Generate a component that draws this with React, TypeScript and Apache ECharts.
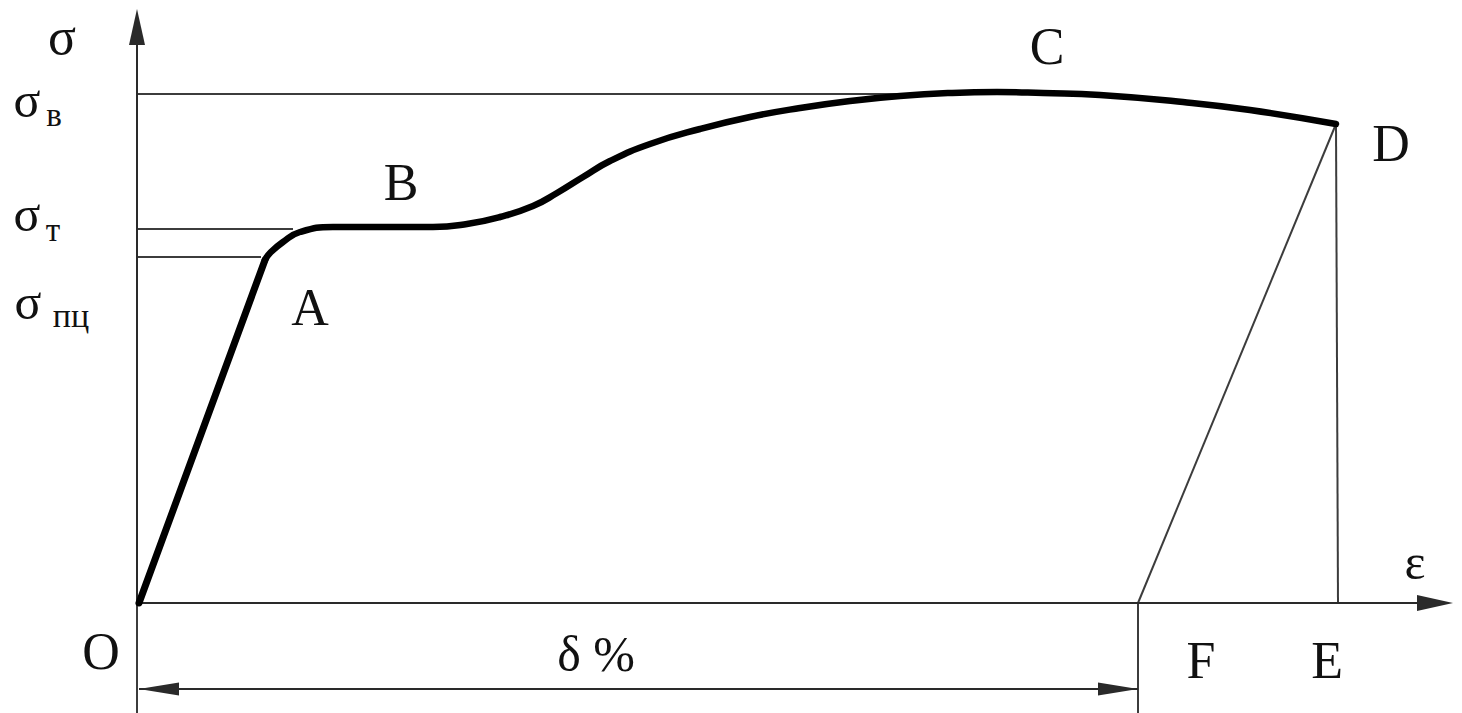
import React, { useEffect, useRef } from "react";
import * as echarts from "echarts";

// Data coordinates: x = strain units, y = stress units (origin O at 0,0)
const elasticSegment: number[][] = [
  [0, 0],
  [126, 343],
];
const plasticCurve: number[][] = [
  [126, 343],
  [131, 350],
  [144, 361],
  [161, 371],
  [194, 376],
  [244, 376],
  [294, 376],
  [328, 379],
  [361, 386],
  [394, 397],
  [418, 410],
  [444, 426],
  [471, 442],
  [511, 459],
  [561, 474],
  [611, 486],
  [661, 495],
  [711, 502],
  [761, 507],
  [811, 510],
  [858, 511],
  [904, 510],
  [961, 508],
  [1044, 501],
  [1111, 493],
  [1197, 479],
];
const sigmaB = 509; // ultimate strength level
const sigmaT = 374; // yield level
const sigmaPC = 346; // proportional limit level
const sigmaBEnd = 770;
const sigmaTEnd = 154;
const sigmaPCEnd = 122;
const pointD: number[] = [1197, 479];
const pointF: number[] = [999, 0];
const pointE: number[] = [1199, 0];
const axisX: number = -2;
const xAxisEnd = 1296;
const yAxisEnd = 576;
const bottomEdge = -110;
const deltaLevel = -86;
const deltaArrowHalf = 20;

const X_MIN = -139;
const X_MAX = 1323;
const Y_MIN = -110;
const Y_MAX = 603;

const FONT = "'Liberation Serif', 'Times New Roman', serif";

function thin(name: string, data: number[][]) {
  return {
    name,
    type: "line",
    data,
    symbol: "none",
    silent: true,
    lineStyle: { color: "#3c3c3c", width: 2 },
    z: 2,
  };
}

export default function App() {
  const ref = useRef<HTMLDivElement>(null);
  useEffect(() => {
    if (!ref.current) return;
    const chart = echarts.init(ref.current, undefined, { renderer: "svg" });
    const txt = (text: string, x: number, y: number, size: number) => ({
      type: "text",
      x,
      y,
      silent: true,
      style: {
        text,
        font: `${size}px ${FONT}`,
        fill: "#111",
        textAlign: "center",
        textVerticalAlign: "middle",
      },
    });
    chart.setOption({
      animation: false,
      backgroundColor: "#ffffff",
      grid: { left: 0, right: 0, top: 0, bottom: 0 },
      xAxis: {
        type: "value",
        min: X_MIN,
        max: X_MAX,
        show: false,
      },
      yAxis: {
        type: "value",
        min: Y_MIN,
        max: Y_MAX,
        show: false,
      },
      series: [
        thin("σв", [
          [axisX, sigmaB],
          [sigmaBEnd, sigmaB],
        ]),
        thin("σт", [
          [axisX, sigmaT],
          [sigmaTEnd, sigmaT],
        ]),
        thin("σпц", [
          [axisX, sigmaPC],
          [sigmaPCEnd, sigmaPC],
        ]),
        thin("DF", [pointD, pointF]),
        thin("DE", [pointD, pointE]),
        thin("F", [pointF, [pointF[0], bottomEdge]]),
        thin("Oy", [
          [axisX, bottomEdge],
          [axisX, 0],
        ]),
        {
          name: "axes",
          type: "line",
          data: [],
          silent: true,
          markLine: {
            silent: true,
            animation: false,
            symbol: ["none", "triangle"],
            symbolSize: [16, 36],
            label: { show: false },
            lineStyle: { type: "solid", color: "#2a2a2a", width: 2 },
            data: [
              [
                { coord: [axisX, 0], symbol: "none" },
                { coord: [xAxisEnd, 0], symbol: "triangle" },
              ],
              [
                { coord: [axisX, 0], symbol: "none" },
                { coord: [axisX, yAxisEnd], symbol: "triangle" },
              ],
              [
                { coord: [deltaArrowHalf, deltaLevel], symbol: "triangle", symbolSize: [13, 40] },
                {
                  coord: [pointF[0] - deltaArrowHalf, deltaLevel],
                  symbol: "triangle",
                  symbolSize: [13, 40],
                },
              ],
              [
                { coord: [0, deltaLevel], symbol: "none" },
                { coord: [pointF[0], deltaLevel], symbol: "none" },
              ],
            ],
          },
        },
        {
          name: "elastic",
          type: "line",
          data: elasticSegment,
          symbol: "none",
          lineStyle: { color: "#000", width: 7, cap: "round" },
          z: 5,
        },
        {
          name: "plastic",
          type: "line",
          data: plasticCurve,
          smooth: 0.5,
          symbol: "none",
          lineStyle: { color: "#000", width: 6.5, cap: "round", join: "round" },
          z: 5,
        },
      ],
      graphic: [
        txt("σ", 62, 36, 52),
        txt("σ", 27, 100, 50),
        txt("в", 54, 115, 33),
        txt("σ", 27, 214, 50),
        txt("т", 53, 230, 33),
        txt("σ", 28, 302, 50),
        txt("пц", 71, 315, 34),
        txt("A", 310, 307, 52),
        txt("B", 401, 182, 52),
        txt("C", 1047, 46, 52),
        txt("D", 1391, 143, 52),
        txt("ε", 1415, 562, 50),
        txt("O", 101, 651, 52),
        txt("δ %", 596, 654, 50),
        txt("F", 1201, 660, 52),
        txt("E", 1327, 660, 52),
      ],
    });
    return () => chart.dispose();
  }, []);
  return (
    <div
      ref={ref}
      style={{ position: "fixed", left: 0, top: 0, width: 1462, height: 713, background: "#fff" }}
    />
  );
}
